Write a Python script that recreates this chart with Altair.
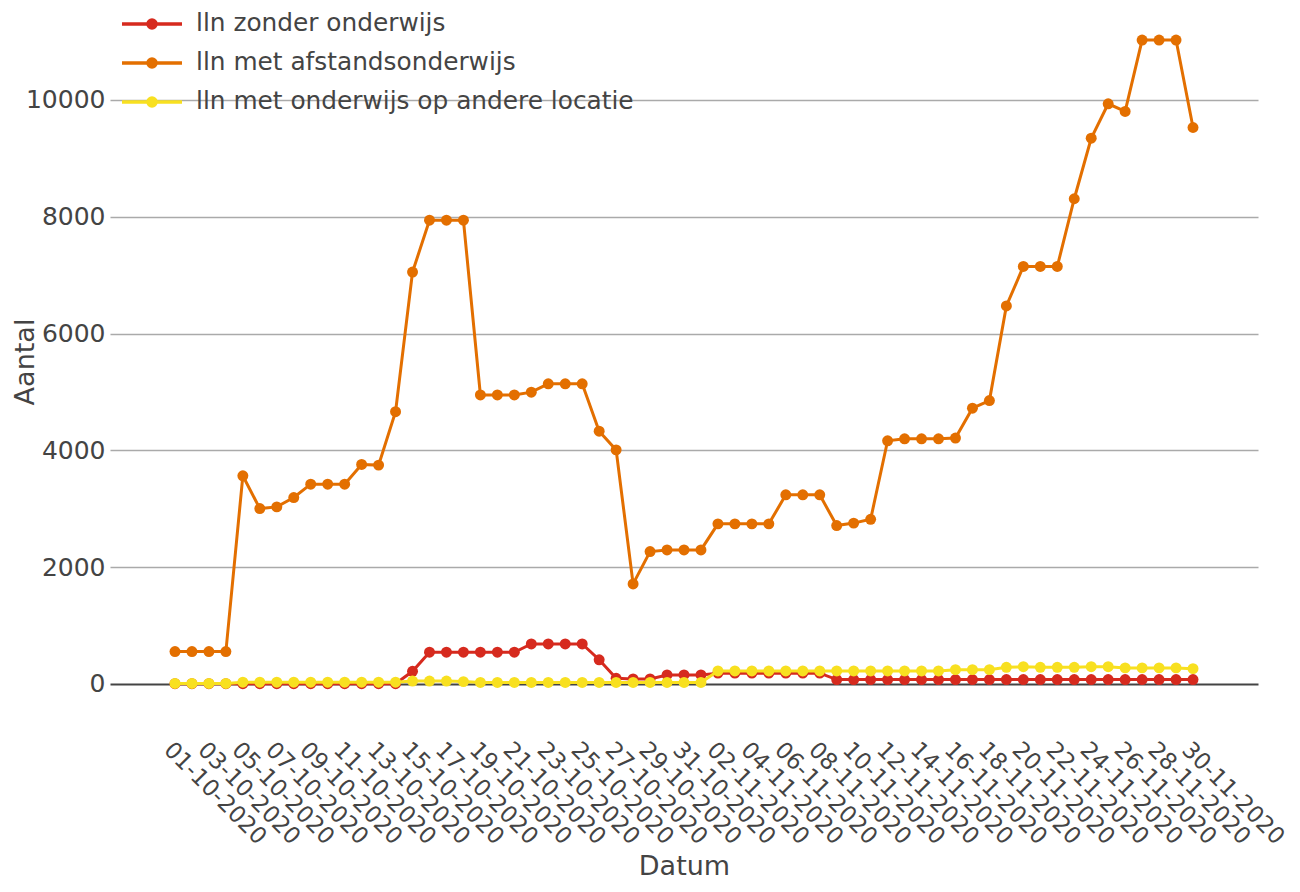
import altair as alt
import pandas as pd

dates = [f"{d:02d}-10-2020" for d in range(1, 32)] + [f"{d:02d}-11-2020" for d in range(1, 31)]
tick_index = list(range(0, 61, 2))

series_names = ["lln zonder onderwijs", "lln met afstandsonderwijs", "lln met onderwijs op andere locatie"]
series_colors = ["#d62a1e", "#e36f00", "#f8e020"]

zonder = [5, 5, 5, 5, 5, 5, 5, 5, 5, 5, 5, 5, 5, 5,
          217, 543, 543, 543, 543, 543, 543, 685, 685, 685, 685,
          414, 97, 86, 86, 154, 154, 154,
          185, 185, 185, 185, 185, 185, 185,
          75, 75, 75, 75, 75, 75, 75, 75, 75, 75, 75,
          75, 75, 75, 75, 75, 75, 75, 75, 75, 75, 75]

afstand = [555, 555, 555, 555, 3564, 3003, 3032, 3192, 3421, 3421, 3421, 3758, 3747, 4662,
           7053, 7940, 7940, 7940, 4948, 4948, 4948, 4996, 5139, 5139, 5139, 4328, 4008,
           1713, 2267, 2295, 2295, 2295,
           2741, 2741, 2741, 2741, 3238, 3238, 3238, 2712, 2754, 2820, 4164, 4197, 4197,
           4197, 4210, 4721, 4852, 6472, 7148, 7148, 7148, 8308, 9344, 9934, 9803,
           11025, 11025, 11025, 9528]

andere = [8, 8, 8, 8, 30, 30, 30, 30, 30, 30, 30, 30, 30, 30,
          50, 50, 50, 40, 25, 25, 25, 25, 25, 25, 25, 25, 25, 25, 25, 25, 25, 25,
          222, 222, 222, 222, 222, 222, 222, 222, 222, 222, 222, 222, 222, 222,
          245, 245, 245, 285, 295, 285, 285, 285, 295, 295, 275, 275, 275, 275, 262]

y_ticks = [0, 2000, 4000, 6000, 8000, 10000]

rows = []
for name, vals in zip(series_names, [zonder, afstand, andere]):
    for i, (d, v) in enumerate(zip(dates, vals)):
        rows.append({"dag": i, "datum": d, "aantal": v, "serie": name})
df = pd.DataFrame(rows)

FONT = "DejaVu Sans"
TXT = "#444444"

date_array = "[" + ",".join("'" + d + "'" for d in dates) + "]"

legend_path = ("M-1.5,0L1.5,0"
               "M-0.2,0A0.2,0.2,0,1,1,0.2,0A0.2,0.2,0,1,1,-0.2,0"
               "M-0.1,0A0.1,0.1,0,1,1,0.1,0A0.1,0.1,0,1,1,-0.1,0")

x_enc = alt.X(
    "dag:Q",
    scale=alt.Scale(domain=[-3.83, 63.83], nice=False, zero=False),
    axis=alt.Axis(
        values=tick_index, labelExpr=date_array + "[datum.value]",
        labelAngle=45, labelAlign="left", labelBaseline="top",
        labelPadding=5, ticks=False, domain=False, grid=False, labelOverlap=False,
        labelFontSize=23, labelColor=TXT, labelFont=FONT, labelBound=False, labelFlush=False,
        title="Datum", titleFontSize=27, titleFont=FONT, titleColor=TXT,
        titleFontWeight="normal", titleX=574, titleY=141, titleBaseline="alphabetic",
        titleAnchor="middle", titleAlign="center",
    ),
)

y_enc = alt.Y(
    "aantal:Q",
    scale=alt.Scale(domain=[-840, 11540], nice=False, zero=False),
    axis=alt.Axis(
        values=y_ticks, format="d", ticks=False, domain=False, labelPadding=5,
        labelFontSize=25, labelColor=TXT, labelFont=FONT,
        gridColor={"condition": {"test": "datum.value === 0", "value": "#444444"}, "value": "#aaaaaa"},
        gridWidth={"condition": {"test": "datum.value === 0", "value": 2}, "value": 1.3},
        title="Aantal", titleFontSize=27, titleFont=FONT, titleColor=TXT,
        titleFontWeight="normal", titleAngle=270, titleX=-77, titleY=351.5,
        titleBaseline="alphabetic", titleAlign="center",
    ),
)

color_enc = alt.Color(
    "serie:N",
    scale=alt.Scale(domain=series_names, range=series_colors),
    legend=alt.Legend(
        title=None, orient="none", legendX=20, legendY=-8,
        symbolType=legend_path, symbolSize=1600, symbolStrokeWidth=3.5,
        labelFontSize=24.8, labelColor=TXT, labelFont=FONT, labelOffset=22,
        labelLimit=0, rowPadding=5, padding=0, symbolOpacity=1,
    ),
)

layers = []
for name in series_names:
    base = alt.Chart(df).transform_filter(alt.datum.serie == name)
    layers.append(base.mark_line(strokeWidth=3).encode(x=x_enc, y=y_enc, color=color_enc))
    layers.append(base.mark_point(filled=True, size=120, opacity=1).encode(x=x_enc, y=y_enc, color=color_enc))

chart = alt.layer(*layers).properties(
    width=1148, height=723,
    autosize=alt.AutoSizeParams(type="none"),
    padding={"left": 102, "top": 2, "right": 34, "bottom": 151},
    background="white",
).configure_view(stroke=None)

chart.save("out.html", embed_options={"renderer": "svg", "actions": False})
